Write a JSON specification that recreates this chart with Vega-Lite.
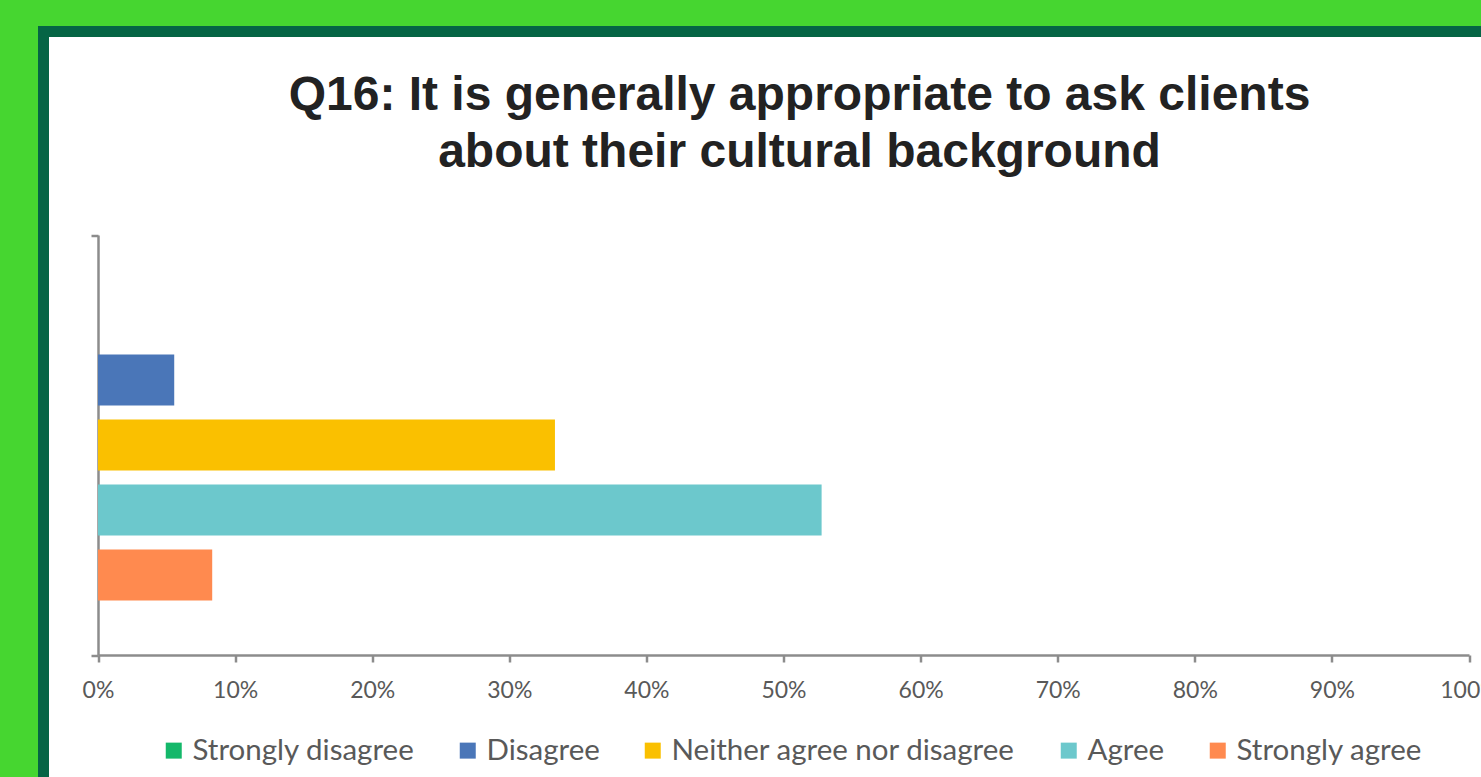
{
  "$schema": "https://vega.github.io/schema/vega-lite/v6.json",
  "width": 1460,
  "height": 766,
  "autosize": {"type": "none"},
  "padding": {"left": 43.5, "top": 31.5, "right": -22.5, "bottom": -20.5},
  "background": "#46D630",
  "title": {
    "text": ["Q16: It is generally appropriate to ask clients", "about their cultural background"],
    "font": "Liberation Sans",
    "fontSize": 48,
    "fontWeight": "bold",
    "color": "#222222",
    "lineHeight": 57,
    "anchor": "middle",
    "baseline": "top",
    "dx": 26,
    "offset": -145
  },
  "data": {
    "values": [
      {"q": "Q16", "response": "Strongly disagree", "value": 0},
      {"q": "Q16", "response": "Disagree", "value": 0.0556},
      {"q": "Q16", "response": "Neither agree nor disagree", "value": 0.3333},
      {"q": "Q16", "response": "Agree", "value": 0.5278},
      {"q": "Q16", "response": "Strongly agree", "value": 0.0833}
    ]
  },
  "mark": {"type": "bar"},
  "encoding": {
    "y": {
      "field": "q",
      "type": "nominal",
      "scale": {"range": [203.5, 623.5], "paddingInner": 0, "paddingOuter": 0},
      "axis": {
        "title": null,
        "labels": false,
        "ticks": true,
        "tickBand": "extent",
        "offset": -54.5,
        "tickSize": 7,
        "tickColor": "#8C8C8C",
        "tickWidth": 2.5,
        "domainColor": "#8C8C8C",
        "domainWidth": 2.5,
        "grid": false
      }
    },
    "yOffset": {
      "field": "response",
      "type": "nominal",
      "sort": ["Strongly disagree", "Disagree", "Neither agree nor disagree", "Agree", "Strongly agree"],
      "scale": {"paddingInner": 0.215, "paddingOuter": 0.838}
    },
    "x": {
      "field": "value",
      "type": "quantitative",
      "scale": {"domain": [0, 1], "range": [54.5, 1425.5], "nice": false},
      "axis": {
        "title": null,
        "format": ".0%",
        "values": [0, 0.1, 0.2, 0.3, 0.4, 0.5, 0.6, 0.7, 0.8, 0.9, 1],
        "offset": -142.5,
        "grid": false,
        "tickSize": 7,
        "tickColor": "#8C8C8C",
        "tickWidth": 2.5,
        "domainColor": "#8C8C8C",
        "domainWidth": 2.5,
        "labelFont": "Lato",
        "labelFontSize": 23,
        "labelColor": "#595959",
        "labelPadding": 17,
        "labelFlush": false,
        "labelOverlap": false
      }
    },
    "color": {
      "field": "response",
      "type": "nominal",
      "scale": {
        "domain": ["Strongly disagree", "Disagree", "Neither agree nor disagree", "Agree", "Strongly agree"],
        "range": ["#14B86A", "#4A76B8", "#FAC000", "#6CC8CC", "#FF8A4F"]
      },
      "legend": {
        "title": null,
        "orient": "none",
        "direction": "horizontal",
        "legendX": 115.5,
        "legendY": 704,
        "symbolType": "square",
        "symbolSize": 256,
        "symbolStrokeWidth": 0,
        "labelFont": "Lato",
        "labelFontSize": 29.5,
        "labelColor": "#595959",
        "labelLimit": 600,
        "columnPadding": 38,
        "labelOffset": 4
      }
    }
  },
  "config": {
    "view": {"fill": "white", "stroke": "#056545", "strokeWidth": 11}
  }
}
